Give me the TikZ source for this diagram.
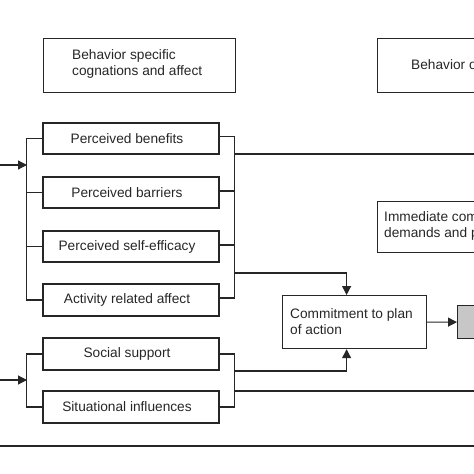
\documentclass[tikz,border=0pt]{standalone}
\usepackage{fontspec}
\setmainfont{Liberation Sans}
\usetikzlibrary{arrows.meta,calc}
\begin{document}
\begin{tikzpicture}[x=1bp,y=-1bp,
  font=\fontsize{13.7bp}{16bp}\selectfont,
  ln/.style={draw=black!85, line width=1.2bp},
  arr/.style={ln, -{Triangle[length=9bp,width=9bp]}},
  fbox/.style={ln, rectangle, inner sep=0pt, minimum width=176bp, minimum height=31bp, text=black!85},
  wbox/.style={ln, rectangle, inner sep=0pt, anchor=north west, text=black!85},
  lbl/.style={anchor=west, align=left, inner sep=0pt, text=black!85}]
\useasboundingbox (0,0) rectangle (474,474);
\clip (0,0) rectangle (474,474);

% header boxes
\node[wbox, minimum width=192bp, minimum height=54bp] (hd1) at (43,38) {};
\node[lbl] (hd1t) at (72,64) {Behavior specific\\cognations and affect};
\node[wbox, minimum width=140bp, minimum height=54bp] (hd2) at (377,38) {};
\node[lbl] (hd2t) at (411,65) {Behavior o};

% left column boxes
\node[fbox] (pb) at (131,138.5) {Perceived benefits\hspace*{8bp}};
\node[fbox] (pr) at (131,192.5) {Perceived barriers\hspace*{8bp}};
\node[fbox] (ps) at (131,246.5) {Perceived self-efficacy\hspace*{8bp}};
\node[fbox, minimum height=32bp] (ar) at (131,300) {Activity related affect\hspace*{8bp}};
\node[fbox, minimum height=32bp] (ss) at (131,354) {Social support\hspace*{8bp}};
\node[fbox, minimum height=32bp] (si) at (131,407) {Situational influences\hspace*{8bp}};

% right side boxes
\node[wbox, minimum width=140bp, minimum height=51bp] (im) at (377,201) {};
\node[lbl] (imt) at (384,226) {Immediate com\\demands and p};
\node[wbox, minimum width=144bp, minimum height=53bp] (cm) at (282,295) {};
\node[lbl] (cmt) at (290,321.5) {Commitment to plan\\of action};
\node[wbox, fill=black!22, minimum width=60bp, minimum height=33bp] (gb) at (457,305) {};

% coordinates
\coordinate (inA) at (0,165);
\coordinate (brA) at (27,165);
\coordinate (inB) at (0,380);
\coordinate (brB) at (27,380);
\coordinate (rA) at (234,154);
\coordinate (rA2) at (234,273);
\coordinate (rB) at (234,371);
\coordinate (rB2) at (234,391);
\coordinate (eA) at (474,154);
\coordinate (eB) at (474,391);
\coordinate (bl) at (0,446);
\coordinate (br) at (474,446);

% left brackets
\draw[ln] (pb.west) -- ++(-16,0) |- (ar.west);
\draw[ln] (pr.west) -- (pr.west -| brA);
\draw[ln] (ps.west) -- (ps.west -| brA);
\draw[arr] (inA) -- (brA);
\draw[ln] (ss.west) -- ++(-16,0) |- (si.west);
\draw[arr] (inB) -- (brB);

% right brackets
\draw[ln] ([yshift=2bp]pb.east) -- ++(15,0) |- ([yshift=2bp]ar.east);
\draw[ln] ([yshift=1.5bp]pr.east) -- ++(15,0);
\draw[ln] ([yshift=1.5bp]ps.east) -- ++(15,0);
\draw[ln] (ss.east) -- ++(15,0) |- (si.east);
\draw[ln] (rA) -- (eA);
\draw[ln] (rB2) -- (eB);
\draw[arr] (rA2) -| ([xshift=-8bp]cm.north);
\draw[arr] (rB) -| ([xshift=-8bp]cm.south);
\draw[arr] (cm.east) -- (gb.west);

% bottom rule
\draw[ln] (bl) -- (br);
\end{tikzpicture}
\end{document}
